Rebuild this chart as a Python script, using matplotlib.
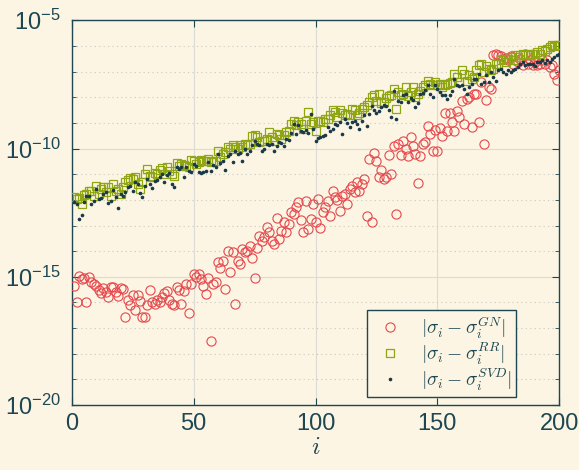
import numpy as np
import matplotlib
matplotlib.use('Agg')
import matplotlib.pyplot as plt
from matplotlib.ticker import FixedLocator, FuncFormatter, NullFormatter

# log10 of the errors, i = 1..200
idx = np.arange(1, 201)

gn_exp = [
    -15.36, -15.98, -14.97, -15.10, -15.05, -15.98, -15.00, -15.20, -15.27, -15.36,
    -15.50, -15.64, -15.44, -15.60, -15.80, -15.40, -15.38, -15.60, -15.76, -15.44,
    -15.48, -16.57, -15.90, -16.10, -15.70, -16.28, -15.70, -15.95, -16.57, -16.57,
    -16.10, -15.50, -15.98, -16.04, -15.90, -16.00, -15.77, -15.64, -15.57, -15.90,
    -16.04, -16.10, -15.40, -15.50, -16.04, -15.57, -15.27, -16.40, -15.29, -14.90,
    -15.00, -14.90, -15.10, -15.35, -15.68, -15.05, -17.50, -15.29, -15.22, -14.44,
    -14.64, -14.38, -15.48, -13.99, -14.83, -14.05, -16.07, -14.38, -14.51, -13.92,
    -14.05, -13.99, -13.80, -14.25, -15.03, -13.88, -13.40, -13.60, -13.46, -13.07,
    -13.27, -13.60, -13.73, -12.71, -13.53, -13.20, -12.88, -13.27, -12.94, -12.49,
    -12.55, -12.29, -12.10, -12.80, -13.27, -12.03, -13.14, -12.75, -12.16, -12.88,
    -11.97, -13.10, -12.49, -12.29, -12.03, -12.62, -11.64, -11.90, -12.00, -12.42,
    -11.84, -11.77, -12.16, -11.58, -11.45, -11.70, -11.32, -11.64, -11.38, -11.20,
    -12.62, -10.41, -12.88, -10.19, -10.50, -11.10, -10.84, -11.19, -11.12, -10.24,
    -10.99, -9.92, -12.55, -9.82, -10.24, -9.69, -10.01, -10.28, -9.56, -9.90,
    -10.21, -11.36, -10.31, -9.82, -9.75, -9.14, -9.43, -10.08, -9.27, -10.08,
    -9.19, -9.50, -8.62, -9.30, -8.62, -8.97, -9.30, -8.52, -8.77, -8.16,
    -9.04, -8.06, -8.00, -9.17, -7.87, -7.87, -8.97, -7.41, -9.82, -8.10,
    -7.61, -7.67, -6.37, -6.33, -6.37, -6.41, -6.50, -6.46, -6.56, -6.41,
    -6.69, -6.54, -6.63, -6.50, -6.76, -6.30, -6.69, -6.56, -6.76, -6.63,
    -6.76, -6.69, -6.56, -6.72, -6.56, -6.82, -6.76, -7.09, -7.32, -6.95,
]

rr_exp = [
    -11.90, -11.95, -11.93, -12.16, -11.80, -11.77, -11.67, -11.64, -11.84, -11.45,
    -11.77, -11.58, -11.51, -11.71, -11.51, -11.84, -11.38, -11.64, -11.58, -11.77,
    -11.49, -11.32, -11.23, -11.15, -11.19, -11.12, -11.38, -11.58, -11.32, -11.00,
    -10.80, -11.06, -11.12, -10.97, -10.99, -10.84, -10.76, -10.99, -10.71, -10.86,
    -10.99, -11.06, -10.58, -10.67, -10.60, -10.64, -10.67, -10.73, -10.45, -10.50,
    -10.60, -10.53, -10.44, -10.50, -10.47, -10.40, -10.53, -10.50, -10.47, -10.08,
    -10.34, -10.20, -10.14, -9.95, -10.01, -9.88, -9.95, -10.01, -9.88, -9.95,
    -9.82, -9.85, -9.82, -9.53, -9.49, -9.56, -9.75, -9.69, -9.71, -9.62,
    -9.36, -9.56, -9.69, -9.43, -9.49, -9.62, -9.49, -9.36, -9.30, -9.04,
    -8.91, -9.10, -8.97, -9.04, -9.23, -8.91, -8.58, -9.04, -8.97, -9.30,
    -8.91, -8.91, -8.95, -8.84, -8.84, -8.70, -8.49, -8.58, -8.78, -8.49,
    -8.60, -8.71, -8.65, -8.71, -8.45, -8.49, -8.71, -8.62, -8.45, -8.39,
    -8.32, -8.20, -8.00, -7.93, -8.13, -7.87, -8.23, -8.19, -8.05, -7.97,
    -7.93, -7.67, -8.45, -7.80, -7.90, -7.87, -7.61, -7.97, -7.80, -7.61,
    -8.00, -7.87, -7.74, -7.60, -7.54, -7.35, -7.48, -7.54, -7.41, -7.54,
    -7.50, -7.61, -7.54, -7.48, -7.45, -7.41, -7.09, -7.22, -7.41, -6.95,
    -7.10, -7.35, -7.15, -7.28, -7.22, -6.95, -6.76, -6.69, -7.02, -6.80,
    -6.89, -6.95, -6.89, -6.69, -6.69, -6.56, -6.50, -6.63, -6.50, -6.43,
    -6.56, -6.37, -6.43, -6.37, -6.33, -6.37, -6.30, -6.37, -6.33, -6.30,
    -6.24, -6.30, -6.17, -6.20, -6.11, -6.04, -5.98, -6.02, -5.98, -5.95,
]

svd_exp = [
    -12.07, -12.16, -12.75, -12.58, -12.10, -11.84, -11.84, -12.16, -12.03, -11.58,
    -11.97, -11.93, -11.77, -11.71, -12.14, -12.03, -11.62, -11.90, -12.32, -11.77,
    -11.84, -11.71, -11.51, -11.45, -11.67, -11.32, -11.38, -11.75, -11.90, -11.45,
    -11.19, -11.38, -11.54, -11.25, -11.23, -11.10, -10.99, -11.32, -11.02, -10.97,
    -11.38, -11.49, -10.71, -10.80, -10.73, -11.12, -10.71, -10.86, -10.93, -10.62,
    -10.70, -10.92, -10.96, -10.90, -10.88, -10.53, -10.86, -10.66, -10.73, -10.21,
    -10.57, -10.47, -10.83, -10.30, -10.21, -10.53, -10.08, -10.20, -10.18, -10.49,
    -10.01, -10.21, -10.08, -9.85, -9.69, -9.82, -9.88, -10.08, -10.01, -9.82,
    -9.88, -9.82, -10.11, -9.92, -9.75, -9.79, -9.92, -9.62, -9.66, -9.40,
    -9.06, -9.45, -9.10, -9.30, -9.35, -9.27, -9.40, -8.67, -9.23, -9.69,
    -9.58, -9.55, -9.53, -9.49, -9.17, -9.30, -9.23, -9.04, -9.10, -8.97,
    -9.45, -8.84, -9.00, -9.17, -8.97, -8.91, -9.05, -9.23, -8.91, -8.71,
    -9.14, -8.65, -8.36, -8.50, -8.62, -8.52, -8.39, -8.32, -8.36, -8.50,
    -8.78, -7.76, -8.84, -8.13, -8.19, -7.93, -7.87, -8.19, -8.05, -8.10,
    -8.39, -8.23, -7.87, -7.84, -7.71, -7.54, -7.87, -8.00, -7.54, -7.67,
    -7.80, -7.93, -7.93, -8.06, -7.90, -7.74, -7.28, -7.54, -7.58, -7.54,
    -7.70, -7.87, -7.61, -7.48, -7.28, -7.28, -7.09, -7.48, -7.41, -7.15,
    -7.41, -7.02, -7.22, -7.35, -6.95, -6.89, -7.02, -7.09, -6.93, -7.02,
    -6.95, -6.89, -6.82, -6.69, -6.63, -6.76, -6.69, -6.70, -6.69, -6.80,
    -6.63, -6.63, -6.56, -6.67, -6.56, -6.63, -6.50, -6.43, -6.37, -6.30,
]

labels = [r'$|\sigma_i - \sigma_i^{GN}|$',
          r'$|\sigma_i - \sigma_i^{RR}|$',
          r'$|\sigma_i - \sigma_i^{SVD}|$']

bg = '#fcf5e3'
ink = '#1d4753'
red = '#e5484d'
olive = '#8fa612'
dark = '#1b3a48'

plt.rcParams['font.family'] = ['Liberation Sans', 'DejaVu Sans']
plt.rcParams['mathtext.fontset'] = 'cm'

fig = plt.figure(figsize=(5.79, 4.70), dpi=100, facecolor=bg)
ax = fig.add_axes([0.124, 0.138, 0.842, 0.819])
ax.set_facecolor(bg)

ax.semilogy(idx, 10.0 ** np.array(gn_exp), 'o', ms=6.6, mfc='none', mec=red,
            mew=0.8, label=labels[0], zorder=3)
ax.semilogy(idx, 10.0 ** np.array(rr_exp), 's', ms=5.8, mfc='none', mec=olive,
            mew=0.9, label=labels[1], zorder=4)
ax.semilogy(idx, 10.0 ** np.array(svd_exp), '.', ms=3.2, color=dark,
            label=labels[2], zorder=5)

ax.set_xlim(0, 200)
ax.set_ylim(1e-20, 1e-5)
ax.xaxis.set_major_locator(FixedLocator([0, 50, 100, 150, 200]))
ax.yaxis.set_major_locator(FixedLocator([1e-20, 1e-15, 1e-10, 1e-5]))
ax.yaxis.set_minor_locator(FixedLocator([10.0 ** k for k in range(-19, -5) if k % 5 != 0]))
ax.yaxis.set_minor_formatter(NullFormatter())
ax.yaxis.set_major_formatter(FuncFormatter(
    lambda v, p: r'$\mathregular{10^{%d}}$' % int(round(np.log10(v)))))

ax.grid(True, which='major', color='#dcdcd6', lw=0.8)
ax.grid(True, which='minor', axis='y', color='#c8c8c2', lw=0.8, ls=(0, (1, 3)))
ax.set_axisbelow(True)

for s in ax.spines.values():
    s.set_color(ink)
    s.set_linewidth(1.0)
ax.tick_params(which='both', direction='in', top=True, right=True, colors=ink,
               labelsize=17)
ax.tick_params(axis='y', pad=8)
ax.tick_params(axis='x', pad=6)
ax.tick_params(which='major', length=5)
ax.tick_params(which='minor', length=3)

ax.set_xlabel(r'$i$', fontsize=18, color=ink, labelpad=0)

leg = ax.legend(loc='lower right', bbox_to_anchor=(0.911, 0.021), borderaxespad=0,
                fancybox=False, framealpha=1, facecolor=bg, edgecolor=ink,
                fontsize=14, handletextpad=0.6, labelspacing=0.0,
                borderpad=0.2, handlelength=2.0)
leg.get_frame().set_linewidth(1.0)
for t in leg.get_texts():
    t.set_color(ink)

fig.savefig('out.png', dpi=100, facecolor=bg)
